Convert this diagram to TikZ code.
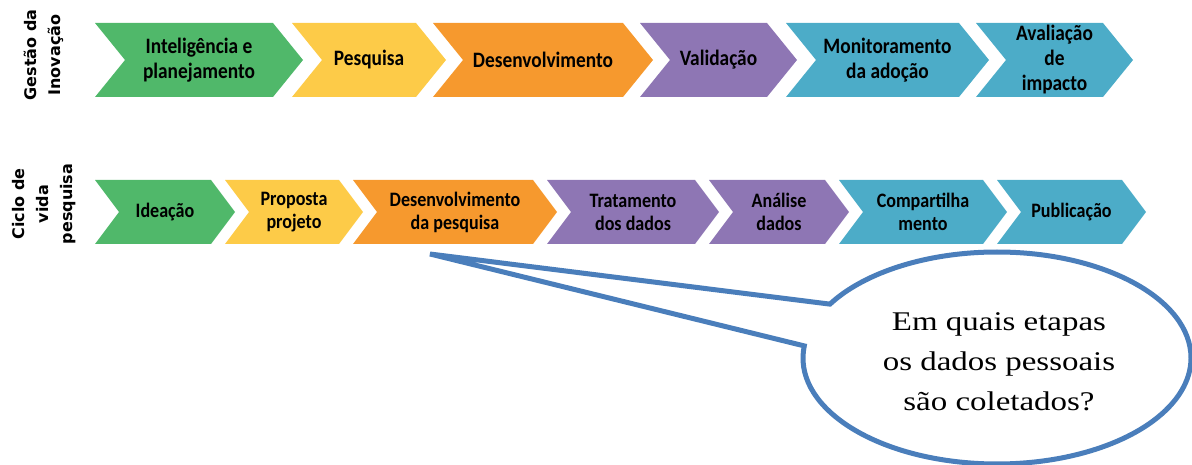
\documentclass[tikz,border=0pt]{standalone}
\usepackage{fontspec}
\setmainfont{Carlito}
\newfontfamily\chevfont[FakeStretch=0.88]{Carlito}
\newfontfamily\labfont{DejaVu Sans}
\newfontfamily\callfont[FakeStretch=1.22]{Liberation Serif}
\usetikzlibrary{shapes.callouts,calc}
\definecolor{cgreen}{RGB}{80,184,106}
\definecolor{cyellow}{RGB}{253,203,72}
\definecolor{corange}{RGB}{246,153,46}
\definecolor{cpurple}{RGB}{142,118,180}
\definecolor{cblue}{RGB}{76,172,200}
\definecolor{cline}{RGB}{74,126,187}
\tikzset{
  toplbl/.style={font=\chevfont\fontsize{22}{25}\selectfont\bfseries, align=center, text=black, inner sep=0pt},
  botlbl/.style={font=\chevfont\fontsize{20.5}{23}\selectfont\bfseries, align=center, text=black, inner sep=0pt},
  rowlbl/.style={font=\labfont\fontsize{16}{24}\selectfont\bfseries, align=center, rotate=90, inner sep=0pt},
}
% #1 name, #2 L, #3 R, #4 T, #5 B, #6 depth, #7 colour, #8 style, #9 text
\newcommand\chevshape[9]{%
  \fill[#7] (#2,#4) -- (#3,#4) -- ({#3+#6},{(#4+#5)/2}) -- (#3,#5) -- (#2,#5)
     -- ({#2+#6},{(#4+#5)/2}) -- cycle;
  \node[#8] (#1) at ({(#2+#6+#3)/2},{(#4+#5)/2}) {#9};
}
\begin{document}
\begin{tikzpicture}[x=1pt,y=-1pt]
\useasboundingbox (0,0) rectangle (1192,465);
% row labels
\node[rowlbl] (gestao) at (44,55) {Gestão da\\Inovação};
\node[rowlbl] (ciclo) at (44,204) {Ciclo de\\vida\\pesquisa};
% top row
\chevshape{tA}{95}{273}{23}{97}{30}{cgreen}{toplbl}{Inteligência e\\planejamento}
\chevshape{tB}{292}{416}{23}{97}{30}{cyellow}{toplbl}{Pesquisa}
\chevshape{tC}{433}{623}{23}{97}{30}{corange}{toplbl}{Desenvolvimento}
\chevshape{tD}{640}{767}{23}{97}{30}{cpurple}{toplbl}{Validação}
\chevshape{tE}{786}{959}{23}{97}{30}{cblue}{toplbl}{Monitoramento\\da adoção}
\chevshape{tF}{976}{1103}{23}{97}{30}{cblue}{toplbl}{Avaliação\\de\\impacto}
% bottom row
\chevshape{bA}{95}{211}{180}{244}{24}{cgreen}{botlbl}{Ideação}
\chevshape{bB}{225}{339}{180}{244}{24}{cyellow}{botlbl}{Proposta\\projeto}
\chevshape{bC}{353}{533}{180}{244}{24}{corange}{botlbl}{Desenvolvimento\\da pesquisa}
\chevshape{bD}{547}{695}{180}{244}{24}{cpurple}{botlbl}{Tratamento\\dos dados}
\chevshape{bE}{709}{825}{180}{244}{24}{cpurple}{botlbl}{Análise\\dados}
\chevshape{bF}{839}{983}{180}{244}{24}{cblue}{botlbl}{Compartilha\\mento}
\chevshape{bG}{997}{1122}{180}{244}{24}{cblue}{botlbl}{Publicação}
% callout
\coordinate (tip) at (430,254);
\node[ellipse callout, draw=cline, line width=5pt, fill=white,
      minimum width=388pt, minimum height=212pt, inner sep=0pt,
      callout absolute pointer={(tip)}, callout pointer arc=24]
  (question) at (997,358) {};
\node[font=\callfont\fontsize{27}{40}\selectfont, align=center, inner sep=0pt]
  (qtext) at (999,362) {Em quais etapas\\os dados pessoais\\são coletados?};
\end{tikzpicture}
\end{document}
